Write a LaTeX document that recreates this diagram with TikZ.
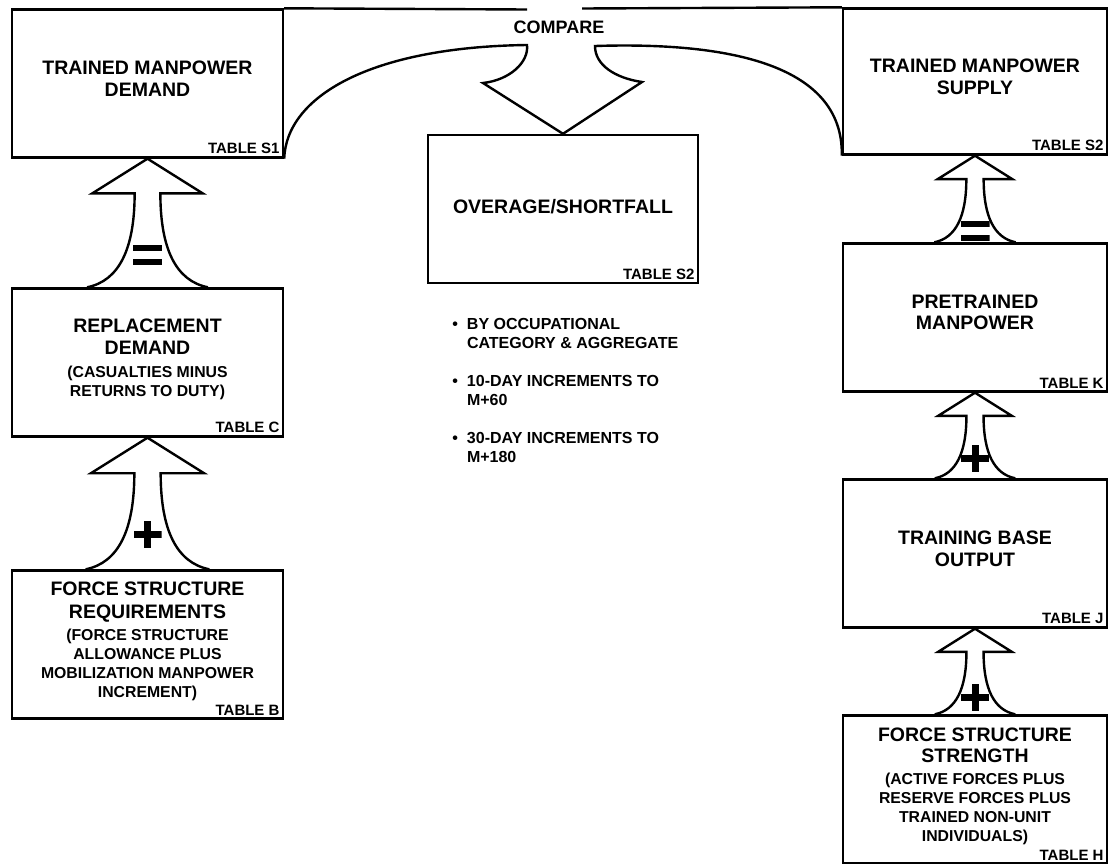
\documentclass[tikz,border=0pt]{standalone}
\usepackage{fontspec}
\setmainfont{Liberation Sans}
\usetikzlibrary{calc}

\newcommand{\subln}[1]{{\fontsize{15.8}{19}\selectfont #1}}
\newcommand{\bigarrow}[4]{%
  \draw[fat] let \p1=(#1.north), \p2=(#2.south), \n1={\y2-\y1} in
    (\x2-0.47*\n1,\y1)
    .. controls (\x2-0.22*\n1,\y1+0.05*\n1) and (\x2-0.10*\n1,\y1+0.30*\n1) .. (\x2-0.10*\n1,\y2-0.27*\n1)
    -- (\x2-0.43*\n1,\y2-0.27*\n1) -- (\x2,\y2) -- (\x2+0.43*\n1,\y2-0.27*\n1) -- (\x2+0.10*\n1,\y2-0.27*\n1)
    .. controls (\x2+0.10*\n1,\y1+0.30*\n1) and (\x2+0.22*\n1,\y1+0.05*\n1) .. (\x2+0.47*\n1,\y1)
    (\x2,\y1+#4) node[#3] (#1sign) {};}

\begin{document}
\begin{tikzpicture}[x=1pt, y=-1pt,
  box/.style={draw, line width=2.4pt, minimum width=271pt, minimum height=148pt, inner sep=0pt,
    align=center, text depth=10pt, font=\bfseries\fontsize{19.5}{21.5}\selectfont},
  tbl/.style={anchor=south east, inner xsep=4.5pt, inner ysep=4.5pt, font=\bfseries\fontsize{15}{16}\selectfont},
  fat/.style={draw, line width=2.4pt},
  plussign/.style={inner sep=0pt, minimum width=28pt, minimum height=27pt,
    path picture={
      \fill ([xshift=-14pt,yshift=-3.5pt]path picture bounding box.center) rectangle ([xshift=14pt,yshift=3.5pt]path picture bounding box.center);
      \fill ([xshift=-3.5pt,yshift=-13.5pt]path picture bounding box.center) rectangle ([xshift=3.5pt,yshift=13.5pt]path picture bounding box.center);}},
  eqsign/.style={inner sep=0pt, minimum width=29pt, minimum height=20pt,
    path picture={
      \fill ([xshift=-14.5pt,yshift=4pt]path picture bounding box.center) rectangle ([xshift=14.5pt,yshift=10pt]path picture bounding box.center);
      \fill ([xshift=-14.5pt,yshift=-10pt]path picture bounding box.center) rectangle ([xshift=14.5pt,yshift=-4pt]path picture bounding box.center);}},
  notes/.style={anchor=north west, inner sep=0pt, align=left, font=\bfseries\fontsize{16}{19}\selectfont}]
 \useasboundingbox (0,0) rectangle (1109,863);
 % demand side
 \node[box] (tmd) at (147.5,83.5) {TRAINED MANPOWER\\DEMAND};
 \node[box, node distance=279pt, below of=tmd] (rd) {REPLACEMENT\\DEMAND\\[1.5pt]\subln{(CASUALTIES MINUS}\\[-2.5pt]\subln{RETURNS TO DUTY)}};
 \node[box, node distance=282pt, below of=rd] (fsr) {FORCE STRUCTURE\\[1.5pt]REQUIREMENTS\\[0.5pt]\subln{(FORCE STRUCTURE}\\[-2.5pt]\subln{ALLOWANCE PLUS}\\[-2.5pt]\subln{MOBILIZATION MANPOWER}\\[-2.5pt]\subln{INCREMENT)}};
 % result
 \node[box, minimum width=270pt, text depth=5pt] (os) at (563,209) {OVERAGE/SHORTFALL};
 % supply side
 \node[box, minimum width=264pt, minimum height=146pt] (tms) at (975,81.5) {TRAINED MANPOWER\\SUPPLY};
 \node[box, minimum width=264pt, node distance=236pt, below of=tms] (pm) {PRETRAINED\\MANPOWER};
 \node[box, minimum width=264pt, node distance=236pt, below of=pm] (tbo) {TRAINING BASE\\OUTPUT};
 \node[box, minimum width=264pt, node distance=236pt, below of=tbo] (fss) {FORCE STRUCTURE\\STRENGTH\\\subln{(ACTIVE FORCES PLUS}\\[-2.5pt]\subln{RESERVE FORCES PLUS}\\[-2.5pt]\subln{TRAINED NON-UNIT}\\[-2.5pt]\subln{INDIVIDUALS)}};
 % table labels
 \node[tbl] (tabS1) at (tmd.south east) {TABLE S1};
 \node[tbl] (tabC) at (rd.south east) {TABLE C};
 \node[tbl] (tabB) at (fsr.south east) {TABLE B};
 \node[tbl] (tabOS) at (os.south east) {TABLE S2};
 \node[tbl] (tabS2) at (tms.south east) {TABLE S2};
 \node[tbl] (tabK) at (pm.south east) {TABLE K};
 \node[tbl] (tabJ) at (tbo.south east) {TABLE J};
 \node[tbl] (tabH) at (fss.south east) {TABLE H};
 % top frame line
 \coordinate (gapl) at (527,9.5);
 \coordinate (gapr) at (582,8.5);
 \draw[fat] (tmd.north east) -- (gapl);
 \draw[fat] (gapr) -- (tms.north west);
 % compare arrow
 \node[font=\bfseries\fontsize{18}{20}\selectfont] (cmp) at (559,27.5) {COMPARE};
 \draw[fat] (tmd.south east) .. controls +(2,-62) and +(-157,2) .. (527,45)
   .. controls +(2,17) and +(27,-3) .. (483,83) -- (os.north) -- (642,82)
   .. controls +(-27,-4) and +(0,19) .. (595,46)
   .. controls +(125,-4) and +(2,-94.5) .. (tms.south west);
 % notes
 \node[notes] (notes) at ([xshift=40pt,yshift=-34pt]os.south west)
   {\llap{\textbullet\hspace{9pt}}BY OCCUPATIONAL\\CATEGORY \& AGGREGATE\\[19pt]
    \llap{\textbullet\hspace{9pt}}10-DAY INCREMENTS TO\\M+60\\[19pt]
    \llap{\textbullet\hspace{9pt}}30-DAY INCREMENTS TO\\M+180};
 % fat arrows
 \bigarrow{rd}{tmd}{eqsign}{32.5pt}
 \bigarrow{fsr}{rd}{plussign}{34.5pt}
 \bigarrow{pm}{tms}{eqsign}{11pt}
 \bigarrow{tbo}{pm}{plussign}{19.5pt}
 \bigarrow{fss}{tbo}{plussign}{16.5pt}
\end{tikzpicture}
\end{document}
